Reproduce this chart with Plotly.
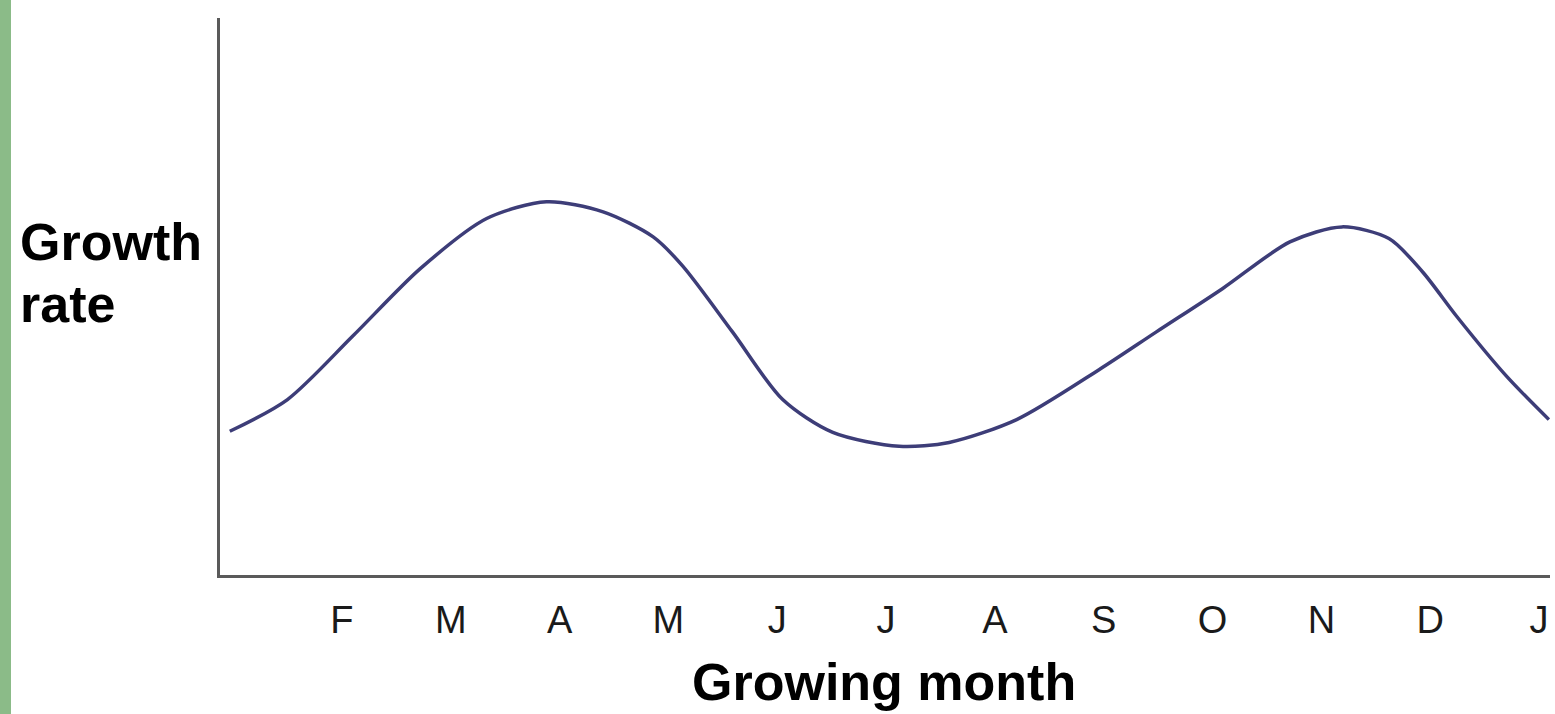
import plotly.graph_objects as go

# Growth curve (month index: 0 = Jan, 12 = next Jan), arbitrary growth units
months_x = [-0.03, 0.50, 1.10, 1.72, 2.33, 2.88, 3.40, 3.86, 4.13, 4.59, 5.05, 5.51,
            6.12, 6.58, 7.20, 7.96, 8.48, 9.09, 9.71, 10.19, 10.62, 10.93, 11.24,
            11.70, 12.09]
growth = [25.8, 31.5, 42.9, 55.0, 64.0, 67.0, 65.2, 60.7, 55.5, 43.6, 31.5, 25.6,
          23.1, 23.8, 27.9, 36.9, 43.6, 51.4, 59.8, 62.5, 60.4, 54.4, 46.5,
          35.7, 27.9]

tick_vals = [1, 2, 3, 4, 5, 6, 7, 8, 9, 10, 11, 12]
tick_text = ["F", "M", "A", "M", "J", "J", "A", "S", "O", "N", "D", "J"]

W, H = 1555, 714
ml, mr, mt, mb = 220, 5, 18, 139

fig = go.Figure()
fig.add_trace(go.Scatter(
    x=months_x, y=growth, mode="lines",
    line=dict(color="#3d3d78", width=3.5, shape="spline", smoothing=0.8),
    hoverinfo="skip", showlegend=False,
))

pw = W - ml - mr
ph = H - mt - mb

fig.update_layout(
    width=W, height=H,
    margin=dict(l=ml, r=mr, t=mt, b=mb),
    paper_bgcolor="white", plot_bgcolor="white",
    xaxis=dict(range=[-0.12, 12.1], showgrid=False, zeroline=False,
               showline=True, linecolor="#5a5a5a", linewidth=3,
               tickvals=tick_vals, ticktext=tick_text, ticks="",
               ticklabelstandoff=9,
               tickfont=dict(family="Liberation Sans, Arial", size=38, color="#1a1a1a")),
    yaxis=dict(range=[0, 100], showgrid=False, zeroline=False,
               showline=True, linecolor="#5a5a5a", linewidth=3,
               showticklabels=False, ticks=""),
    shapes=[dict(type="rect", xref="paper", yref="paper",
                 x0=-ml / pw, x1=(11 - ml) / pw, y0=-mb / ph, y1=1 + mt / ph,
                 fillcolor="#8bbb88", line=dict(width=0), layer="above")],
    annotations=[
        dict(text="<b>Growth</b>", xref="paper", yref="paper",
             x=(18 - ml) / pw, y=1 - (263 - mt) / ph, xanchor="left", yanchor="bottom",
             showarrow=False, yshift=-10,
             font=dict(family="Liberation Sans, Arial", size=52, color="#000")),
        dict(text="<b>rate</b>", xref="paper", yref="paper",
             x=(18 - ml) / pw, y=1 - (325 - mt) / ph, xanchor="left", yanchor="bottom",
             showarrow=False, yshift=-10,
             font=dict(family="Liberation Sans, Arial", size=52, color="#000")),
        dict(text="<b>Growing month</b>", xref="paper", yref="paper",
             x=(884 - ml) / pw, y=1 - (703 - mt) / ph, xanchor="center", yanchor="bottom",
             showarrow=False, yshift=-10,
             font=dict(family="Liberation Sans, Arial", size=52, color="#000")),
    ],
)

fig.write_html("out.html", config={"displayModeBar": False},
               post_script="document.body.style.margin='0';document.body.style.overflow='hidden';")
